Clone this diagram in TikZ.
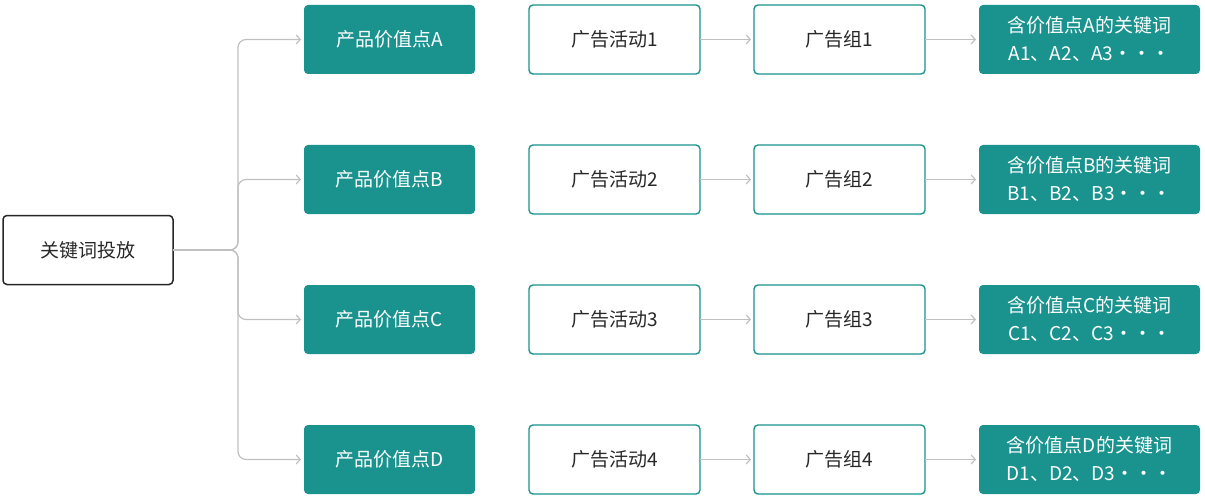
\documentclass[tikz,border=0pt]{standalone}
\usepackage{fontspec}
\newfontfamily\cjk{Noto Sans CJK SC}
\usetikzlibrary{positioning,arrows.meta}
\definecolor{tealbox}{RGB}{26,147,143}
\definecolor{linkgray}{RGB}{192,192,192}
\definecolor{txtgray}{RGB}{40,40,40}
\tikzset{
  box/.style={minimum width=171pt, minimum height=69pt, inner sep=0pt, outer sep=0pt,
    rounded corners=4pt, font=\cjk\fontsize{19}{28}\selectfont, align=center},
  fillbox/.style={box, fill=tealbox, text=white},
  linebox/.style={box, draw=tealbox, line width=1.4pt, fill=white, text=txtgray},
  rootbox/.style={box, minimum width=170pt, draw=black!85, line width=1.5pt, text=txtgray},
  link/.style={draw=linkgray, line width=1.2pt, -{Straight Barb[length=4pt,width=9pt]}, shorten >=3pt},
}
\begin{document}
\begin{tikzpicture}[x=1pt, y=-1pt]
    \useasboundingbox (0,0) rectangle (1205,500);
    \node[rootbox] (kw) at (88,250) {关键词投放};
    \coordinate (fork) at (238,250);
    \foreach \L [count=\i] in {A,B,C,D}{
      \node[fillbox] (v\i) at (389.5,{39.5+140*(\i-1)}) {产品价值点{\L}};
      \node[linebox, right=54pt of v\i] (c\i) {广告活动{\i}};
      \node[linebox, right=54pt of c\i] (g\i) {广告组{\i}};
      \node[fillbox, minimum width=221pt, right=54pt of g\i] (k\i) {含价值点{\L}的关键词\\{\L}1、{\L}2、{\L}3・・・};
      \path[link, rounded corners=8pt] (kw.east) -- (fork) |- (v\i.west);
      \path[link] (c\i) -- (g\i);
      \path[link] (g\i) -- (k\i);
    }
\end{tikzpicture}
\end{document}
